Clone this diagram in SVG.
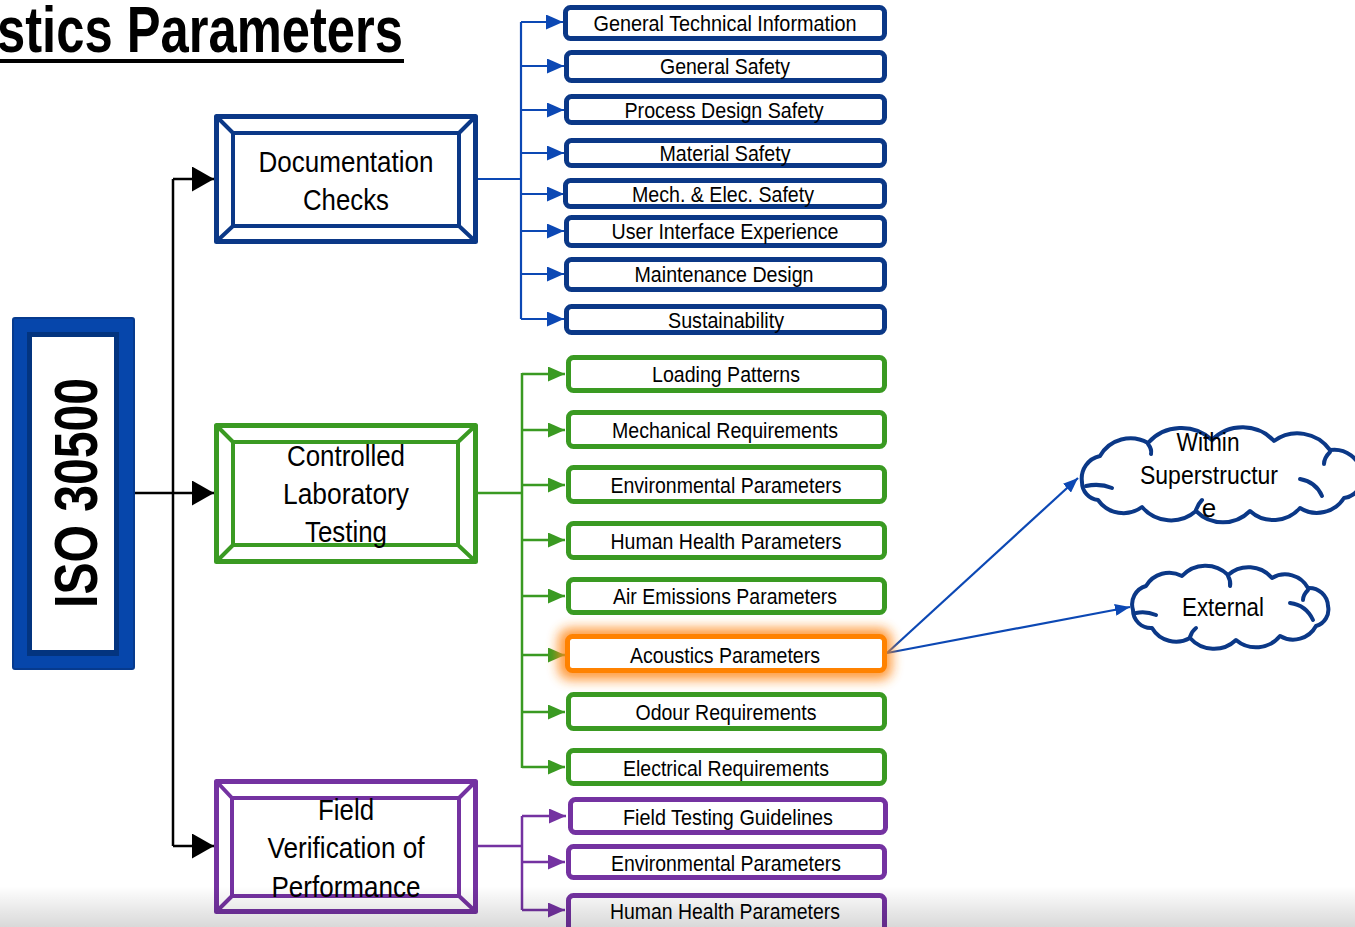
<svg xmlns="http://www.w3.org/2000/svg" width="1355" height="927" viewBox="0 0 1355 927">
  <defs>
    <style>
      text { font-family: "Liberation Sans", Arial, sans-serif; fill: #000; }
      .leaf { font-size: 22px; text-anchor: middle; }
      .mid { font-size: 30px; text-anchor: middle; }
      .cloudtxt { font-size: 26px; text-anchor: middle; }
      .bx-blue { fill: #fff; stroke: #0B3887; stroke-width: 5; }
      .bx-green { fill: #fff; stroke: #3A9A22; stroke-width: 5; }
      .bx-purple { fill: #fff; stroke: #7432A1; stroke-width: 5; }
      .bx-orange { fill: #fff; stroke: #FF8200; stroke-width: 5; }
      .frame { fill: #fff; stroke-width: 5; stroke-linejoin: round; }
      .bevel { fill: none; stroke-width: 4; }
      .c-black { fill: none; stroke: #000; stroke-width: 2.5; }
      .c-blue { fill: none; stroke: #0C48B4; stroke-width: 2.2; }
      .c-green { fill: none; stroke: #3A9A22; stroke-width: 2.5; }
      .c-purple { fill: none; stroke: #7432A1; stroke-width: 2.5; }
      .cloud { fill: #fff; stroke: #0B3887; stroke-width: 4; stroke-linejoin: round; }
      .curl { fill: none; stroke: #0B3887; stroke-width: 4; stroke-linecap: round; }
    </style>
    <marker id="ah-black" markerUnits="userSpaceOnUse" markerWidth="22" markerHeight="25" refX="22" refY="12.5" orient="auto">
      <path d="M0,0 L22,12.5 L0,25 Z" fill="#000"/>
    </marker>
    <marker id="ah-blue" markerUnits="userSpaceOnUse" markerWidth="17" markerHeight="15" refX="17" refY="7.5" orient="auto">
      <path d="M0,0 L17,7.5 L0,15 Z" fill="#0C48B4"/>
    </marker>
    <marker id="ah-green" markerUnits="userSpaceOnUse" markerWidth="17" markerHeight="15" refX="17" refY="7.5" orient="auto">
      <path d="M0,0 L17,7.5 L0,15 Z" fill="#3A9A22"/>
    </marker>
    <marker id="ah-purple" markerUnits="userSpaceOnUse" markerWidth="17" markerHeight="15" refX="17" refY="7.5" orient="auto">
      <path d="M0,0 L17,7.5 L0,15 Z" fill="#7432A1"/>
    </marker>
    <marker id="ah-cloud" markerUnits="userSpaceOnUse" markerWidth="15" markerHeight="12" refX="15" refY="6" orient="auto">
      <path d="M0,0 L15,6 L0,12 Z" fill="#0C48B4"/>
    </marker>
    <filter id="glow" x="-20%" y="-80%" width="140%" height="260%">
      <feGaussianBlur stdDeviation="6"/>
    </filter>
    <linearGradient id="shade" x1="0" y1="0" x2="0" y2="1">
      <stop offset="0" stop-color="#000" stop-opacity="0"/>
      <stop offset="1" stop-color="#000" stop-opacity="0.15"/>
    </linearGradient>
  </defs>

  <rect width="1355" height="927" fill="#fff"/>

  <!-- heading -->
  <g id="title">
    <text x="-3" y="52" font-size="64" font-weight="bold" textLength="406" lengthAdjust="spacingAndGlyphs">stics Parameters</text>
    <rect x="0" y="59" width="404" height="4" fill="#000"/>
  </g>

  <!-- connectors -->
  <g id="connectors">
    <path class="c-black" d="M133,493 H214" marker-end="url(#ah-black)"/>
    <path class="c-black" d="M173,179 V846"/>
    <path class="c-black" d="M173,179 H214" marker-end="url(#ah-black)"/>
    <path class="c-black" d="M173,846 H214" marker-end="url(#ah-black)"/>

    <path class="c-blue" d="M478,179 H521 M521,22 V319"/>
    <path class="c-blue" d="M521,22 H563" marker-end="url(#ah-blue)"/>
    <path class="c-blue" d="M521,66 H564" marker-end="url(#ah-blue)"/>
    <path class="c-blue" d="M521,110 H564" marker-end="url(#ah-blue)"/>
    <path class="c-blue" d="M521,153 H564" marker-end="url(#ah-blue)"/>
    <path class="c-blue" d="M521,194 H564" marker-end="url(#ah-blue)"/>
    <path class="c-blue" d="M521,231 H564" marker-end="url(#ah-blue)"/>
    <path class="c-blue" d="M521,274 H564" marker-end="url(#ah-blue)"/>
    <path class="c-blue" d="M521,319 H564" marker-end="url(#ah-blue)"/>

    <path class="c-green" d="M478,493 H522 M522,373 V768"/>
    <path class="c-green" d="M522,374 H565" marker-end="url(#ah-green)"/>
    <path class="c-green" d="M522,430 H565" marker-end="url(#ah-green)"/>
    <path class="c-green" d="M522,485 H565" marker-end="url(#ah-green)"/>
    <path class="c-green" d="M522,540 H565" marker-end="url(#ah-green)"/>
    <path class="c-green" d="M522,596 H565" marker-end="url(#ah-green)"/>
    <path class="c-green" d="M522,655 H565" marker-end="url(#ah-green)"/>
    <path class="c-green" d="M522,712 H565" marker-end="url(#ah-green)"/>
    <path class="c-green" d="M522,767 H565" marker-end="url(#ah-green)"/>

    <path class="c-purple" d="M478,846 H522 M522,816 V910"/>
    <path class="c-purple" d="M522,816 H566" marker-end="url(#ah-purple)"/>
    <path class="c-purple" d="M522,862 H565" marker-end="url(#ah-purple)"/>
    <path class="c-purple" d="M522,910 H565" marker-end="url(#ah-purple)"/>

    <path class="c-blue" d="M887,653 L1078,478" marker-end="url(#ah-cloud)"/>
    <path class="c-blue" d="M887,653 L1130,607" marker-end="url(#ah-cloud)"/>
  </g>

  <!-- root node -->
  <g id="iso30500">
    <rect x="13" y="318" width="121" height="351" rx="2" fill="#0646AB" stroke="#063A8E" stroke-width="2"/>
    <rect x="27" y="332" width="92" height="324" fill="#03347F"/>
    <rect x="32" y="337" width="82" height="313" fill="#fff"/>
    <text transform="translate(97,493) rotate(-90)" font-size="62" font-weight="bold" text-anchor="middle" textLength="230" lengthAdjust="spacingAndGlyphs">ISO 30500</text>
  </g>

  <!-- level 2 nodes -->
  <g id="documentation-checks">
    <rect class="frame" x="216.5" y="116.5" width="259" height="125" stroke="#0B3887"/>
    <rect class="bevel" x="233" y="133" width="226" height="93" stroke="#0B3887"/>
    <path class="bevel" stroke="#0B3887" d="M217,117 L233,133 M475,117 L459,133 M217,241 L233,226 M475,241 L459,226"/>
    <text class="mid" x="346" y="172" textLength="175" lengthAdjust="spacingAndGlyphs">Documentation</text>
    <text class="mid" x="346" y="210" textLength="86" lengthAdjust="spacingAndGlyphs">Checks</text>
  </g>

  <g id="controlled-laboratory-testing">
    <rect class="frame" x="216.5" y="425.5" width="259" height="136" stroke="#3A9A22"/>
    <rect class="bevel" x="233" y="442" width="225" height="103" stroke="#3A9A22"/>
    <path class="bevel" stroke="#3A9A22" d="M217,426 L233,442 M475,426 L458,442 M217,561 L233,545 M475,561 L458,545"/>
    <text class="mid" x="346" y="466" textLength="118" lengthAdjust="spacingAndGlyphs">Controlled</text>
    <text class="mid" x="346" y="504" textLength="126" lengthAdjust="spacingAndGlyphs">Laboratory</text>
    <text class="mid" x="346" y="542" textLength="82" lengthAdjust="spacingAndGlyphs">Testing</text>
  </g>

  <g id="field-verification">
    <rect class="frame" x="216.5" y="781.5" width="259" height="130" stroke="#7432A1"/>
    <rect class="bevel" x="232" y="798" width="227" height="98" stroke="#7432A1"/>
    <path class="bevel" stroke="#7432A1" d="M217,782 L232,798 M475,782 L459,798 M217,911 L232,896 M475,911 L459,896"/>
    <text class="mid" x="346" y="820" textLength="56" lengthAdjust="spacingAndGlyphs">Field</text>
    <text class="mid" x="346" y="858" textLength="157" lengthAdjust="spacingAndGlyphs">Verification of</text>
    <text class="mid" x="346" y="897" textLength="149" lengthAdjust="spacingAndGlyphs">Performance</text>
  </g>

  <!-- documentation leaves -->
  <g id="general-technical-information">
    <rect class="bx-blue" x="565.5" y="7.5" width="319" height="31" rx="5"/>
    <text class="leaf" x="725" y="31" textLength="263" lengthAdjust="spacingAndGlyphs">General Technical Information</text>
  </g>
  <g id="general-safety">
    <rect class="bx-blue" x="566.5" y="52.5" width="318" height="28" rx="5"/>
    <text class="leaf" x="725" y="74" textLength="130" lengthAdjust="spacingAndGlyphs">General Safety</text>
  </g>
  <g id="process-design-safety">
    <rect class="bx-blue" x="566.5" y="96.5" width="318" height="26" rx="5"/>
    <text class="leaf" x="724" y="118" textLength="199" lengthAdjust="spacingAndGlyphs">Process Design Safety</text>
  </g>
  <g id="material-safety">
    <rect class="bx-blue" x="566.5" y="140.5" width="318" height="25" rx="5"/>
    <text class="leaf" x="725" y="161" textLength="131" lengthAdjust="spacingAndGlyphs">Material Safety</text>
  </g>
  <g id="mech-elec-safety">
    <rect class="bx-blue" x="565.5" y="180.5" width="319" height="26" rx="5"/>
    <text class="leaf" x="723" y="202" textLength="182" lengthAdjust="spacingAndGlyphs">Mech. &amp; Elec. Safety</text>
  </g>
  <g id="user-interface-experience">
    <rect class="bx-blue" x="566.5" y="217.5" width="318" height="28" rx="5"/>
    <text class="leaf" x="725" y="239" textLength="227" lengthAdjust="spacingAndGlyphs">User Interface Experience</text>
  </g>
  <g id="maintenance-design">
    <rect class="bx-blue" x="566.5" y="259.5" width="318" height="30" rx="5"/>
    <text class="leaf" x="724" y="282" textLength="179" lengthAdjust="spacingAndGlyphs">Maintenance Design</text>
  </g>
  <g id="sustainability">
    <rect class="bx-blue" x="566.5" y="306.5" width="318" height="26" rx="5"/>
    <text class="leaf" x="726" y="328" textLength="116" lengthAdjust="spacingAndGlyphs">Sustainability</text>
  </g>

  <!-- laboratory leaves -->
  <g id="loading-patterns">
    <rect class="bx-green" x="568.5" y="357.5" width="316" height="33" rx="5"/>
    <text class="leaf" x="726" y="382" textLength="148" lengthAdjust="spacingAndGlyphs">Loading Patterns</text>
  </g>
  <g id="mechanical-requirements">
    <rect class="bx-green" x="568.5" y="412.5" width="316" height="34" rx="5"/>
    <text class="leaf" x="725" y="438" textLength="226" lengthAdjust="spacingAndGlyphs">Mechanical Requirements</text>
  </g>
  <g id="environmental-parameters-lab">
    <rect class="bx-green" x="568.5" y="467.5" width="316" height="34" rx="5"/>
    <text class="leaf" x="726" y="493" textLength="231" lengthAdjust="spacingAndGlyphs">Environmental Parameters</text>
  </g>
  <g id="human-health-parameters-lab">
    <rect class="bx-green" x="568.5" y="523.5" width="316" height="34" rx="5"/>
    <text class="leaf" x="726" y="549" textLength="231" lengthAdjust="spacingAndGlyphs">Human Health Parameters</text>
  </g>
  <g id="air-emissions-parameters">
    <rect class="bx-green" x="568.5" y="579.5" width="316" height="33" rx="5"/>
    <text class="leaf" x="725" y="604" textLength="224" lengthAdjust="spacingAndGlyphs">Air Emissions Parameters</text>
  </g>
  <g id="acoustics-parameters">
    <rect x="558" y="628" width="334" height="52" rx="12" fill="#FF8A1F" opacity="0.85" filter="url(#glow)"/>
    <rect class="bx-orange" x="567.5" y="636.5" width="317" height="34" rx="5"/>
    <text class="leaf" x="725" y="663" textLength="190" lengthAdjust="spacingAndGlyphs">Acoustics Parameters</text>
  </g>
  <g id="odour-requirements">
    <rect class="bx-green" x="568.5" y="694.5" width="316" height="34" rx="5"/>
    <text class="leaf" x="726" y="720" textLength="181" lengthAdjust="spacingAndGlyphs">Odour Requirements</text>
  </g>
  <g id="electrical-requirements">
    <rect class="bx-green" x="568.5" y="750.5" width="316" height="33" rx="5"/>
    <text class="leaf" x="726" y="776" textLength="206" lengthAdjust="spacingAndGlyphs">Electrical Requirements</text>
  </g>

  <!-- field leaves -->
  <g id="field-testing-guidelines">
    <rect class="bx-purple" x="570.5" y="799.5" width="315" height="33" rx="5"/>
    <text class="leaf" x="728" y="825" textLength="210" lengthAdjust="spacingAndGlyphs">Field Testing Guidelines</text>
  </g>
  <g id="environmental-parameters-field">
    <rect class="bx-purple" x="568.5" y="846.5" width="316" height="31" rx="5"/>
    <text class="leaf" x="726" y="871" textLength="230" lengthAdjust="spacingAndGlyphs">Environmental Parameters</text>
  </g>
  <g id="human-health-parameters-field">
    <rect class="bx-purple" x="568.5" y="895.5" width="316" height="40" rx="5"/>
    <text class="leaf" x="725" y="919" textLength="230" lengthAdjust="spacingAndGlyphs">Human Health Parameters</text>
  </g>

  <!-- clouds -->
  <g id="within-superstructure">
    <path class="cloud" d="M1082,482 A23,23 0 0 1 1100,456 A35,35 0 0 1 1148,443 A45,45 0 0 1 1212,440 A43,43 0 0 1 1274,441 A40,40 0 0 1 1330,450 A28,28 0 0 1 1362,474 A21,21 0 0 1 1344,498 A32,32 0 0 1 1300,508 A35,35 0 0 1 1250,511 A38,38 0 0 1 1196,511 A38,38 0 0 1 1142,507 A31,31 0 0 1 1098,500 A18,18 0 0 1 1082,482 Z"/>
    <path class="curl" d="M1086,486 Q1100,483 1112,488"/>
    <path class="curl" d="M1300,479 Q1316,482 1322,496"/>
    <path class="curl" d="M1148,444 Q1152,449 1151,454"/>
    <path class="curl" d="M1330,452 Q1324,458 1324,464"/>
    <path class="curl" d="M1196,510 Q1198,504 1202,500"/>
    <text class="cloudtxt" x="1208" y="451" textLength="63" lengthAdjust="spacingAndGlyphs">Within</text>
    <text class="cloudtxt" x="1209" y="484" textLength="138" lengthAdjust="spacingAndGlyphs">Superstructur</text>
    <text class="cloudtxt" x="1209" y="517">e</text>
  </g>

  <g id="external">
    <path class="cloud" d="M1133,610 A19,19 0 0 1 1146,586 A27,27 0 0 1 1182,576 A32,32 0 0 1 1228,575 A31,31 0 0 1 1272,578 A26,26 0 0 1 1308,588 A19,19 0 0 1 1328,606 A17,17 0 0 1 1316,626 A26,26 0 0 1 1280,636 A31,31 0 0 1 1236,640 A32,32 0 0 1 1190,638 A28,28 0 0 1 1152,628 A18,18 0 0 1 1133,610 Z"/>
    <path class="curl" d="M1136,613 Q1146,611 1156,615"/>
    <path class="curl" d="M1290,603 Q1306,605 1313,620"/>
    <path class="curl" d="M1228,576 Q1231,581 1230,586"/>
    <path class="curl" d="M1308,590 Q1303,595 1303,600"/>
    <path class="curl" d="M1190,637 Q1192,631 1196,628"/>
    <text class="cloudtxt" x="1223" y="616" textLength="82" lengthAdjust="spacingAndGlyphs">External</text>
  </g>

  <!-- soft shading along the lower edge -->
  <rect x="0" y="886" width="1355" height="41" fill="url(#shade)"/>
</svg>
